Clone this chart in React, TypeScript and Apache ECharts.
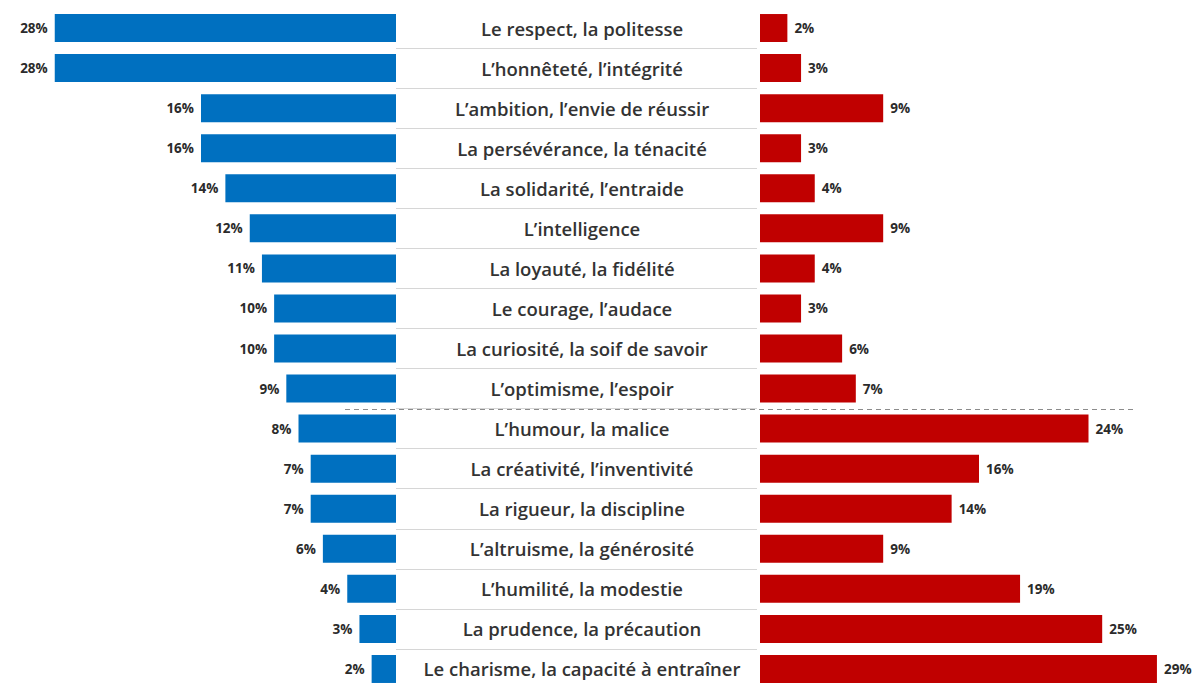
import React, { useEffect, useRef } from "react";
import * as echarts from "echarts";

const categories = [
  "Le respect, la politesse",
  "L’honnêteté, l’intégrité",
  "L’ambition, l’envie de réussir",
  "La persévérance, la ténacité",
  "La solidarité, l’entraide",
  "L’intelligence",
  "La loyauté, la fidélité",
  "Le courage, l’audace",
  "La curiosité, la soif de savoir",
  "L’optimisme, l’espoir",
  "L’humour, la malice",
  "La créativité, l’inventivité",
  "La rigueur, la discipline",
  "L’altruisme, la générosité",
  "L’humilité, la modestie",
  "La prudence, la précaution",
  "Le charisme, la capacité à entraîner",
];
const leftValues = [28, 28, 16, 16, 14, 12, 11, 10, 10, 9, 8, 7, 7, 6, 4, 3, 2];
const rightValues = [2, 3, 9, 3, 4, 9, 4, 3, 6, 7, 24, 16, 14, 9, 19, 25, 29];
const dividerAfterIndex = 9;

export default function App() {
  const ref = useRef<HTMLDivElement>(null);
  useEffect(() => {
    if (!ref.current) return;
    const chart = echarts.init(ref.current, undefined, { renderer: "svg" });
    const top = 8;
    const height = 687;
    const font = "'Open Sans', sans-serif";
    const valueLabel = {
      show: true,
      formatter: "{c}%",
      fontSize: 13.5,
      fontWeight: "bold" as const,
      color: "#2b2b2b",
      fontFamily: font,
      distance: 7,
    };
    const hiddenValueAxis = (gridIndex: number, max: number, inverse = false) => ({
      type: "value",
      gridIndex,
      min: 0,
      max,
      inverse,
      show: false,
      axisLine: { show: false },
      splitLine: { show: false },
      axisTick: { show: false },
      axisLabel: { show: false },
    });
    const catAxis = (gridIndex: number, extra: any = {}) => ({
      type: "category",
      gridIndex,
      data: categories,
      inverse: true,
      axisLine: { show: false },
      axisTick: { show: false },
      axisLabel: { show: false },
      splitLine: { show: false },
      ...extra,
    });
    chart.setOption({
      animation: false,
      backgroundColor: "#ffffff",
      grid: [
        { left: 6, width: 390, top, height, show: false },
        { left: 396, width: 361, top, height, show: false },
        { left: 760, width: 438, top, height, show: false },
      ],
      xAxis: [
        hiddenValueAxis(0, 32, true),
        hiddenValueAxis(1, 1),
        hiddenValueAxis(2, 32),
      ],
      yAxis: [
        catAxis(0),
        catAxis(1, {
          axisLabel: {
            show: true,
            align: "center",
            margin: -186,
            fontSize: 18.5,
            fontWeight: 600,
            color: "#333333",
            fontFamily: font,
          },
          splitLine: {
            show: true,
            showMinLine: false,
            showMaxLine: false,
            lineStyle: { color: "#d6d6d6", width: 1 },
          },
        }),
        catAxis(2),
      ],
      series: [
        {
          type: "bar",
          xAxisIndex: 0,
          yAxisIndex: 0,
          data: leftValues,
          barWidth: 28,
          itemStyle: { color: "#0070c0" },
          label: { ...valueLabel, position: "left" },
        },
        {
          type: "bar",
          xAxisIndex: 2,
          yAxisIndex: 2,
          data: rightValues,
          barWidth: 28,
          itemStyle: { color: "#c00000" },
          label: { ...valueLabel, position: "right" },
        },
      ],
    });
    const y1 = chart.convertToPixel({ yAxisIndex: 1 }, dividerAfterIndex) as number;
    const y2 = chart.convertToPixel({ yAxisIndex: 1 }, dividerAfterIndex + 1) as number;
    const y = Math.round((y1 + y2) / 2) + 0.5;
    chart.setOption({
      graphic: [
        {
          type: "line",
          shape: { x1: 345, y1: y, x2: 1135, y2: y },
          style: { stroke: "#8c8c8c", lineWidth: 1.2, lineDash: [5, 4] },
          z: 100,
        },
      ],
    });
    return () => chart.dispose();
  }, []);
  return (
    <div
      ref={ref}
      style={{ position: "fixed", left: 0, top: 0, width: 1202, height: 689 }}
    />
  );
}
